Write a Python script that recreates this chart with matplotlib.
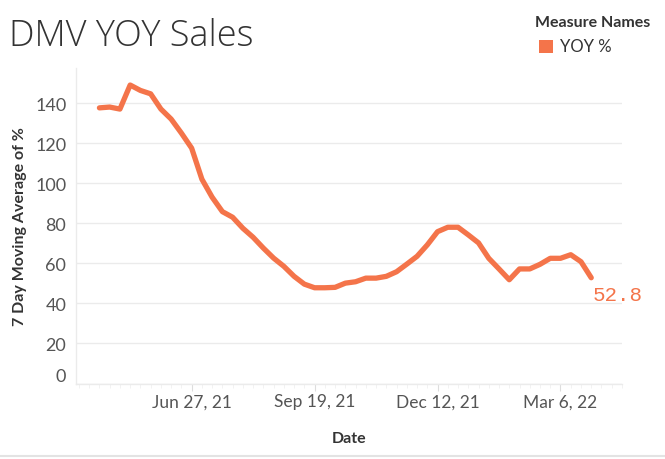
import matplotlib
matplotlib.use('agg')
import matplotlib.pyplot as plt
import matplotlib.dates as mdates
import pandas as pd
from matplotlib.patches import Rectangle
from matplotlib.lines import Line2D

# weekly points, Apr 25 2021 -> Mar 27 2022
dates = pd.date_range('2021-04-25', periods=49, freq='7D')
yoy = [137.6, 138.0, 137.0, 149.0, 146.3, 144.6, 137.0, 132.0, 125.0, 117.5,
       102.0, 93.0, 85.8, 83.0, 77.5, 73.0, 67.6, 62.6, 58.5, 53.5,
       49.6, 47.8, 47.8, 48.0, 50.1, 50.8, 52.6, 52.6, 53.5, 55.8,
       59.6, 63.5, 69.2, 75.8, 78.0, 78.0, 74.2, 70.2, 62.5, 57.2,
       51.8, 57.2, 57.2, 59.5, 62.5, 62.5, 64.3, 60.8, 52.8]
tick_dates = pd.to_datetime(['2021-06-27', '2021-09-19', '2021-12-12', '2022-03-06'])
tick_labels = ['Jun 27, 21', 'Sep 19, 21', 'Dec 12, 21', 'Mar 6, 22']
y_ticks = [0, 20, 40, 60, 80, 100, 120, 140]

orange = '#F4744A'
grid_c = '#EBEBEB'
text_c = '#555555'

plt.rcParams['font.family'] = ['Lato', 'DejaVu Sans']

fig = plt.figure(figsize=(6.65, 4.6), dpi=100)
ax = fig.add_axes([0.1143, 0.1641, 0.8210, 0.6859])

ax.plot(dates, yoy, color=orange, linewidth=3.8, solid_joinstyle='round',
        solid_capstyle='round', zorder=3)

ax.set_ylim(0, 157.5)
ax.set_xlim(pd.Timestamp('2021-04-09'), pd.Timestamp('2022-04-17'))

ax.set_yticks(y_ticks)
ax.set_yticklabels([str(v) for v in y_ticks])
ax.yaxis.grid(True, color=grid_c, linewidth=1)
ax.set_axisbelow(True)

ax.set_xticks(tick_dates)
ax.set_xticklabels(tick_labels)
ax.xaxis.set_minor_locator(mdates.WeekdayLocator(byweekday=mdates.SU, interval=1))

for s in ['top', 'right']:
    ax.spines[s].set_visible(False)
for s in ['left', 'bottom']:
    ax.spines[s].set_color(grid_c)
    ax.spines[s].set_linewidth(1)

ax.tick_params(axis='y', length=0, pad=7, labelsize=13, labelcolor=text_c)
ax.tick_params(axis='x', which='major', length=5, color='#DDDDDD', pad=2,
               labelsize=12.5, labelcolor=text_c)
ax.tick_params(axis='x', which='minor', length=3, color='#F0F0F0')
# Tableau nudges the 0 label up inside the axis
ax.get_yticklabels()[0].set_va('bottom')

ax.set_ylabel('7 Day Moving Average of %', fontsize=11.5, fontweight='bold',
              color='#333333')
ax.yaxis.set_label_coords(-0.09, 0.5)
ax.set_xlabel('Date', fontsize=11.5, fontweight='bold', color='#333333')
ax.xaxis.set_label_coords(0.5, -0.15)

ax.annotate(f'{yoy[-1]:.1f}', xy=(dates[-1], yoy[-1]), xytext=(1, -12),
            textcoords='offset points', ha='left', va='center',
            fontsize=15, color=orange, family='Liberation Mono')

fig.text(0.013, 0.92, 'DMV YOY Sales', fontsize=26, color='#333333',
         family='Open Sans', fontweight='light', va='center')

# legend
fig.text(0.804, 0.95, 'Measure Names', fontsize=11.5, fontweight='bold',
         color='#333333', va='center')
fig.patches.append(Rectangle((0.811, 0.883), 0.020, 0.027, transform=fig.transFigure,
                             facecolor=orange, edgecolor='none'))
fig.text(0.842, 0.897, 'YOY %', fontsize=12, color='#333333', va='center')

# bottom panel border
fig.add_artist(Line2D([0, 1], [0.007, 0.007], color='#E3E3E3', linewidth=1.5,
                      transform=fig.transFigure))

fig.savefig('out.png', dpi=100)
